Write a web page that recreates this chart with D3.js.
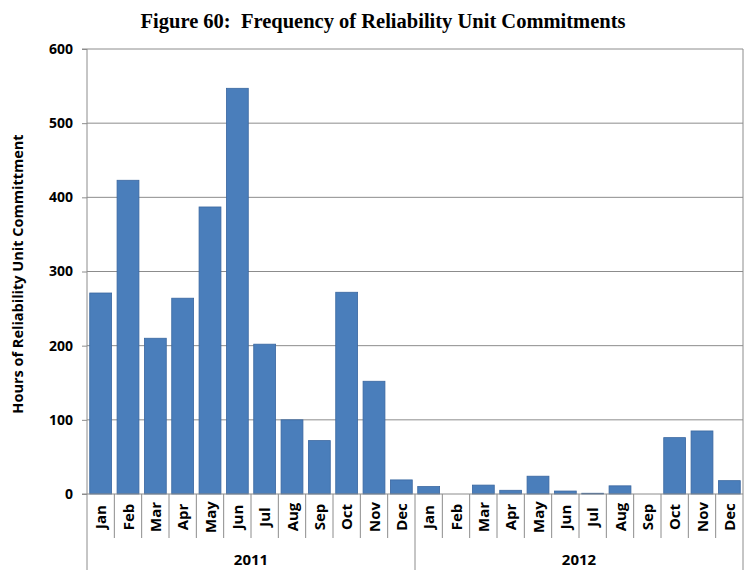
<!DOCTYPE html>
<html><head><meta charset="utf-8">
<script src="https://cdn.jsdelivr.net/npm/d3@7"></script>
<style>body{margin:0;background:#fff}</style>
</head><body>
<svg id="c" width="745" height="570"></svg>
<script>
const months = ["Jan","Feb","Mar","Apr","May","Jun","Jul","Aug","Sep","Oct","Nov","Dec"];
const years = ["2011","2012"];
const values2011 = [271,423,210,264,387,547,202,100,72,272,152,19];
const values2012 = [10,0,12,5,24,4,1,11,0,76,85,18];
const yTicks = [0,100,200,300,400,500,600];

const data = [];
years.forEach((yr,i)=>{
  const vals = i===0 ? values2011 : values2012;
  months.forEach((m,j)=>data.push({key:yr+"-"+m, month:m, year:yr, value:vals[j]}));
});

const FONT = "'Open Sans', 'Liberation Sans', sans-serif";
const svg = d3.select("#c");
const m = {left:87, right:743, top:49, bottom:494};
const x = d3.scaleBand().domain(data.map(d=>d.key)).range([m.left,m.right]).paddingInner(0.2).paddingOuter(0.1);
const y = d3.scaleLinear().domain([0,600]).range([m.bottom,m.top]);

// gridlines
svg.append("g").selectAll("line").data(yTicks.filter(t=>t>0)).join("line")
  .attr("x1",m.left).attr("x2",m.right).attr("y1",d=>y(d)).attr("y2",d=>y(d))
  .attr("stroke","#8c8c8c").attr("stroke-width",1);
svg.append("line").attr("x1",m.right).attr("x2",m.right).attr("y1",m.top).attr("y2",m.bottom)
  .attr("stroke","#8c8c8c");

// bars
svg.append("g").selectAll("rect").data(data).join("rect")
  .attr("x",d=>x(d.key)).attr("width",x.bandwidth())
  .attr("y",d=>y(d.value)).attr("height",d=>y(0)-y(d.value))
  .attr("fill","#4a7ebb").attr("stroke","#3a67a0").attr("stroke-width",0.8);

// y axis
const yAxis = d3.axisLeft(y).tickValues(yTicks).tickSize(5).tickPadding(9);
const ga = svg.append("g").attr("transform",`translate(${m.left},0)`).call(yAxis);
ga.select(".domain").attr("stroke","#8c8c8c").attr("d",`M-5,${m.top}H0V${m.bottom}H-5`);
ga.selectAll(".tick line").attr("stroke","#8c8c8c");
ga.selectAll("text").attr("font-family",FONT)
  .attr("font-weight","bold").attr("font-size",14).attr("fill","#000");

svg.append("line").attr("x1",m.left).attr("x2",m.right).attr("y1",m.bottom).attr("y2",m.bottom)
  .attr("stroke","#8c8c8c");

// category separators
const sepX = i => m.left + i*(m.right-m.left)/data.length;
const sep = svg.append("g");
for(let i=0;i<=data.length;i++){
  const isYear = (i%12===0);
  sep.append("line").attr("x1",sepX(i)).attr("x2",sepX(i))
    .attr("y1",m.bottom).attr("y2", isYear ? 570 : 538)
    .attr("stroke","#8c8c8c").attr("stroke-width",1);
}

// month labels
svg.append("g").selectAll("text").data(data).join("text")
  .attr("transform",d=>`translate(${x(d.key)+x.bandwidth()/2+5.5},${517}) rotate(-90)`)
  .attr("text-anchor","middle")
  .attr("font-family",FONT)
  .attr("font-weight","bold").attr("font-size",15).text(d=>d.month);

// year labels
svg.append("g").selectAll("text").data(years).join("text")
  .attr("x",(d,i)=>(sepX(i*12)+sepX(i*12+12))/2).attr("y",565)
  .attr("text-anchor","middle")
  .attr("font-family",FONT)
  .attr("font-weight","bold").attr("font-size",15).text(d=>d);

// y title
svg.append("text").attr("transform",`translate(23,274) rotate(-90)`)
  .attr("text-anchor","middle")
  .attr("font-family",FONT)
  .attr("font-weight","bold").attr("font-size",14.5).text("Hours of Reliability Unit Committment");

// title
svg.append("text").attr("x",383).attr("y",28).attr("text-anchor","middle")
  .attr("font-family","'Liberation Serif', 'Times New Roman', serif")
  .attr("font-weight","bold").attr("font-size",20.5).attr("xml:space","preserve")
  .text("Figure 60:  Frequency of Reliability Unit Commitments");
</script>
</body></html>
